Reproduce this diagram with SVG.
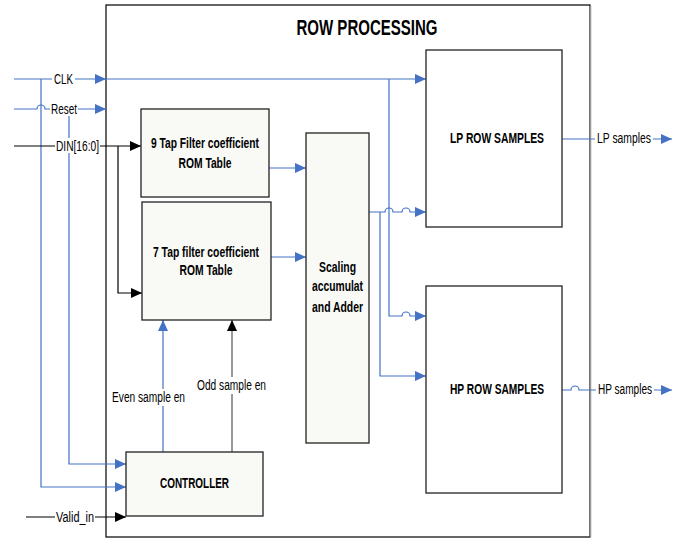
<svg xmlns="http://www.w3.org/2000/svg" width="682" height="539" viewBox="0 0 682 539">
<style>
text{font-family:"Liberation Sans Narrow","Liberation Sans",Arial,sans-serif;fill:#000}
.b{font-weight:bold;font-size:14.5px;text-anchor:middle}
.l{font-size:14px;text-anchor:middle}
.blu{fill:none;stroke:#4472C4;stroke-width:1.2}
.blk{fill:none;stroke:#000;stroke-width:1.2}
.gry{fill:none;stroke:#555;stroke-width:1.2}
.box{fill:#f9f9f6;stroke:#222;stroke-width:1.3}
.wbox{fill:#fff;stroke:#222;stroke-width:1.3}
.bg{fill:#fff}
</style>
<defs>
<marker id="ab" markerUnits="userSpaceOnUse" markerWidth="12" markerHeight="10" refX="11" refY="5" orient="auto"><path d="M0,0 L11,5 L0,10 Z" fill="#4472C4"/></marker>
<marker id="ak" markerUnits="userSpaceOnUse" markerWidth="12" markerHeight="10" refX="11" refY="5" orient="auto"><path d="M0,0 L11,5 L0,10 Z" fill="#000"/></marker>
</defs>
<rect width="682" height="539" fill="#fff"/>
<g id="row_processing">
<rect x="106" y="5" width="484" height="532" fill="#fff" stroke="#000" stroke-width="1.2"/>
<line x1="590.5" y1="6" x2="590.5" y2="537" stroke="#999" stroke-width="1.5"/>
<text x="367" y="35" font-weight="bold" font-size="22" text-anchor="middle" textLength="141" lengthAdjust="spacingAndGlyphs">ROW PROCESSING</text>
</g>
<g id="connectors">
<path class="blu" d="M14,79 H106" marker-end="url(#ab)"/>
<path class="blu" d="M106,79 H426" marker-end="url(#ab)"/>
<path class="blu" d="M41,79 V487 H126" marker-end="url(#ab)"/>
<path class="blu" d="M14,109 H37 A4,4 0 0 1 45,109 H106" marker-end="url(#ab)"/>
<path class="blu" stroke="#8fa9dc" d="M69,109 V464 H126" marker-end="url(#ab)"/>
<path class="blk" d="M14,146 H141" marker-end="url(#ak)"/>
<path class="blk" d="M118,146 V293 H142" marker-end="url(#ak)"/>
<path class="blu" d="M269,168 H306" marker-end="url(#ab)"/>
<path class="blu" d="M271,257 H306" marker-end="url(#ab)"/>
<path class="blu" d="M369,212 H385 A4,4 0 0 1 393,212 H402 A4,4 0 0 1 410,212 H426" marker-end="url(#ab)"/>
<path class="blu" d="M389,79 V316 H402 A4,4 0 0 1 410,316 H426" marker-end="url(#ab)"/>
<path class="blu" d="M380,212 V376 H426" marker-end="url(#ab)"/>
<path class="blu" d="M163,452 V320" marker-end="url(#ab)"/>
<path class="gry" d="M232,452 V320" marker-end="url(#ak)"/>
<path class="blk" d="M26,517 H126" marker-end="url(#ak)"/>
<path class="blu" d="M562,139 H672" marker-end="url(#ab)"/>
<path class="blu" d="M562,390 H571 A4,4 0 0 1 579,390 H672" marker-end="url(#ab)"/>
<rect class="bg" x="52" y="71" width="23" height="15"/>
<text class="l" x="63.5" y="84" textLength="19" lengthAdjust="spacingAndGlyphs">CLK</text>
<rect class="bg" x="50" y="101" width="28" height="15"/>
<text class="l" x="64" y="114" textLength="26" lengthAdjust="spacingAndGlyphs">Reset</text>
<rect class="bg" x="55" y="138" width="45" height="15"/>
<text class="l" x="77.5" y="151" textLength="43" lengthAdjust="spacingAndGlyphs">DIN[16:0]</text>
<rect class="bg" x="55" y="509" width="40" height="15"/>
<text class="l" x="75" y="522" textLength="38" lengthAdjust="spacingAndGlyphs">Valid_in</text>
<rect class="bg" x="110" y="389" width="77" height="17"/>
<text class="l" x="148.5" y="402" textLength="73" lengthAdjust="spacingAndGlyphs">Even sample en</text>
<rect class="bg" x="195" y="377" width="73" height="17"/>
<text class="l" x="231.5" y="390" textLength="69" lengthAdjust="spacingAndGlyphs">Odd sample en</text>
<rect class="bg" x="595" y="131" width="58" height="15"/>
<text class="l" x="624" y="143" textLength="54" lengthAdjust="spacingAndGlyphs">LP samples</text>
<rect class="bg" x="596" y="382" width="58" height="15"/>
<text class="l" x="625" y="394" textLength="54" lengthAdjust="spacingAndGlyphs">HP samples</text>
</g>
<g id="tap9">
<rect class="box" x="141" y="109" width="128" height="88"/>
<text class="b" x="205" y="148" textLength="108" lengthAdjust="spacingAndGlyphs">9 Tap Filter coefficient</text>
<text class="b" x="205" y="168" textLength="53" lengthAdjust="spacingAndGlyphs">ROM Table</text>
</g>
<g id="tap7">
<rect class="box" x="142" y="202" width="129" height="118"/>
<text class="b" x="206" y="257" textLength="106" lengthAdjust="spacingAndGlyphs">7 Tap filter coefficient</text>
<text class="b" x="206" y="275" textLength="53" lengthAdjust="spacingAndGlyphs">ROM Table</text>
</g>
<g id="scaling">
<rect class="box" x="306" y="133" width="63" height="310"/>
<text class="b" x="337.5" y="272" textLength="37" lengthAdjust="spacingAndGlyphs">Scaling</text>
<text class="b" x="337.5" y="291" textLength="51" lengthAdjust="spacingAndGlyphs">accumulat</text>
<text class="b" x="337.5" y="312" textLength="51" lengthAdjust="spacingAndGlyphs">and Adder</text>
</g>
<g id="lp_row">
<rect class="wbox" x="426" y="50" width="136" height="177"/>
<text class="b" x="497" y="143" textLength="94" lengthAdjust="spacingAndGlyphs">LP ROW SAMPLES</text>
</g>
<g id="hp_row">
<rect class="wbox" x="426" y="286" width="136" height="207"/>
<text class="b" x="497" y="394" textLength="94" lengthAdjust="spacingAndGlyphs">HP ROW SAMPLES</text>
</g>
<g id="controller">
<rect class="box" x="126" y="452" width="137" height="64"/>
<text class="b" x="194.5" y="488" textLength="69" lengthAdjust="spacingAndGlyphs">CONTROLLER</text>
</g>
</svg>
